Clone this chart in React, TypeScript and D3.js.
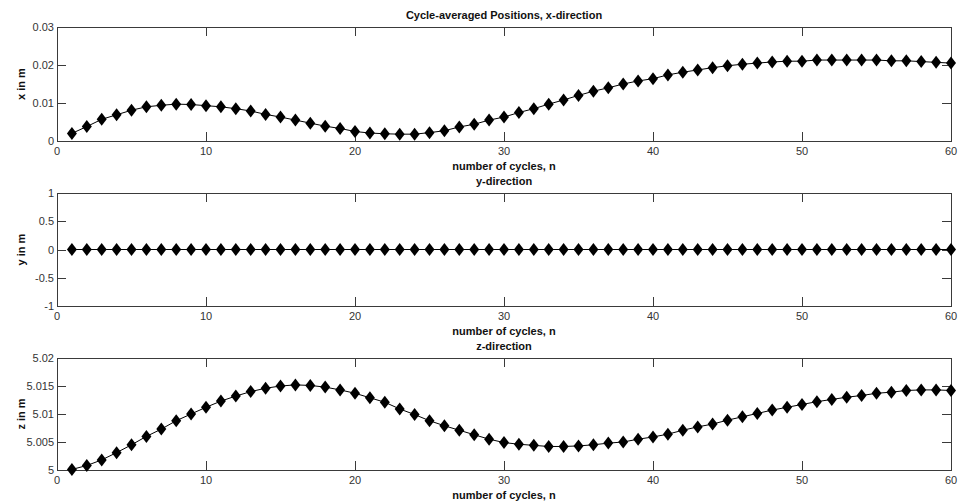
import React, { useRef, useEffect } from "react";
import * as d3 from "d3";

// Cycle index n = 1..60
const cycles: number[] = d3.range(1, 61);

const xPos: number[] = [
  0.0020, 0.0038, 0.0057, 0.0069, 0.0081, 0.0090, 0.0094, 0.0097, 0.0096, 0.0093,
  0.0090, 0.0085, 0.0079, 0.0070, 0.0063, 0.0055, 0.0047, 0.0039, 0.0033, 0.0025,
  0.0021, 0.0019, 0.0018, 0.0018, 0.0022, 0.0027, 0.0037, 0.0044, 0.0055, 0.0063,
  0.0075, 0.0085, 0.0097, 0.0108, 0.0120, 0.0131, 0.0140, 0.0150, 0.0158, 0.0164,
  0.0174, 0.0181, 0.0187, 0.0193, 0.0198, 0.0202, 0.0205, 0.0208, 0.0210, 0.0210,
  0.0213, 0.0213, 0.0213, 0.0213, 0.0213, 0.0211, 0.0211, 0.0209, 0.0207, 0.0205,
];

const yPos: number[] = [
  0, 0, 0, 0, 0, 0, 0, 0, 0, 0, 0, 0, 0, 0, 0, 0, 0, 0, 0, 0,
  0, 0, 0, 0, 0, 0, 0, 0, 0, 0, 0, 0, 0, 0, 0, 0, 0, 0, 0, 0,
  0, 0, 0, 0, 0, 0, 0, 0, 0, 0, 0, 0, 0, 0, 0, 0, 0, 0, 0, 0,
];

const zPos: number[] = [
  5.0001, 5.0008, 5.0018, 5.0031, 5.0045, 5.0060, 5.0073, 5.0088, 5.0100, 5.0112,
  5.0123, 5.0132, 5.0140, 5.0146, 5.0150, 5.0152, 5.0151, 5.0148, 5.0143, 5.0137,
  5.0129, 5.0121, 5.0109, 5.0099, 5.0088, 5.0079, 5.0071, 5.0063, 5.0055, 5.0049,
  5.0046, 5.0044, 5.0042, 5.0042, 5.0043, 5.0045, 5.0048, 5.0050, 5.0055, 5.0059,
  5.0064, 5.0071, 5.0077, 5.0082, 5.0089, 5.0095, 5.0101, 5.0107, 5.0112, 5.0117,
  5.0122, 5.0126, 5.0130, 5.0133, 5.0137, 5.0139, 5.0142, 5.0143, 5.0143, 5.0142,
];

const xTicks: number[] = [0, 10, 20, 30, 40, 50, 60];

const panels = [
  { title: "Cycle-averaged Positions, x-direction", yLabel: "x in m", values: xPos, domain: [0, 0.03], ticks: [0, 0.01, 0.02, 0.03], fmt: (d: number) => (d === 0 ? "0" : d.toFixed(2)) },
  { title: "y-direction", yLabel: "y in m", values: yPos, domain: [-1, 1], ticks: [-1, -0.5, 0, 0.5, 1], fmt: (d: number) => `${d}` },
  { title: "z-direction", yLabel: "z in m", values: zPos, domain: [5, 5.02], ticks: [5, 5.005, 5.01, 5.015, 5.02], fmt: (d: number) => (d === 5 ? "5" : `${+d.toFixed(3)}`) },
];

const FONT = "Arial, 'Liberation Sans', sans-serif";

const App: React.FC = () => {
  const svgRef = useRef<SVGSVGElement>(null);

  useEffect(() => {
    if (!svgRef.current) return;
    const svg = d3.select(svgRef.current);
    svg.selectAll("*").remove();

    const left = 57;
    const right = 951;
    const tops = [27, 193, 358];
    const bottoms = [141, 306, 470];
    const tickLen = 9;

    const xScale = d3.scaleLinear().domain([0, 60]).range([left, right]);

    panels.forEach((p, i) => {
      const top = tops[i];
      const bottom = bottoms[i];
      const yScale = d3.scaleLinear().domain(p.domain).range([bottom, top]);
      const g = svg.append("g");

      // Box
      g.append("rect")
        .attr("x", left + 0.5)
        .attr("y", top + 0.5)
        .attr("width", right - left)
        .attr("height", bottom - top)
        .attr("fill", "#fff")
        .attr("stroke", "#3a3a3a")
        .attr("stroke-width", 1);

      // X ticks (bottom + top, inward)
      xTicks.forEach((t) => {
        const x = Math.round(xScale(t)) + 0.5;
        g.append("line").attr("x1", x).attr("x2", x).attr("y1", bottom).attr("y2", bottom - tickLen).attr("stroke", "#3a3a3a");
        g.append("line").attr("x1", x).attr("x2", x).attr("y1", top).attr("y2", top + tickLen).attr("stroke", "#3a3a3a");
        g.append("text")
          .attr("x", xScale(t))
          .attr("y", bottom + 14)
          .attr("text-anchor", "middle")
          .attr("font-family", FONT)
          .attr("font-size", 11)
          .attr("fill", "#333")
          .text(t);
      });

      // Y ticks (left + right, inward)
      p.ticks.forEach((t) => {
        const y = Math.round(yScale(t)) + 0.5;
        g.append("line").attr("x1", left).attr("x2", left + tickLen).attr("y1", y).attr("y2", y).attr("stroke", "#3a3a3a");
        g.append("line").attr("x1", right).attr("x2", right - tickLen).attr("y1", y).attr("y2", y).attr("stroke", "#3a3a3a");
        g.append("text")
          .attr("x", left - 3)
          .attr("y", yScale(t) + 4)
          .attr("text-anchor", "end")
          .attr("font-family", FONT)
          .attr("font-size", 11)
          .attr("fill", "#333")
          .text(p.fmt(t));
      });

      // Title
      g.append("text")
        .attr("x", (left + right) / 2)
        .attr("y", top - 8)
        .attr("text-anchor", "middle")
        .attr("font-family", FONT)
        .attr("font-size", 11)
        .attr("font-weight", "bold")
        .attr("fill", "#111")
        .text(p.title);

      // X label
      g.append("text")
        .attr("x", (left + right) / 2)
        .attr("y", bottom + 29)
        .attr("text-anchor", "middle")
        .attr("font-family", FONT)
        .attr("font-size", 11)
        .attr("font-weight", "bold")
        .attr("fill", "#111")
        .text("number of cycles, n");

      // Y label
      g.append("text")
        .attr("transform", `translate(25,${(top + bottom) / 2}) rotate(-90)`)
        .attr("text-anchor", "middle")
        .attr("font-family", FONT)
        .attr("font-size", 11)
        .attr("font-weight", "bold")
        .attr("fill", "#111")
        .text(p.yLabel);

      const pts = cycles.map((n, k) => ({ n, v: p.values[k] }));

      const line = d3
        .line<{ n: number; v: number }>()
        .x((d) => xScale(d.n))
        .y((d) => yScale(d.v));

      g.append("path")
        .datum(pts)
        .attr("fill", "none")
        .attr("stroke", "#000")
        .attr("stroke-width", 1)
        .attr("d", line);

      // Diamond markers
      g.selectAll(".dot")
        .data(pts)
        .enter()
        .append("path")
        .attr("class", "dot")
        .attr("d", "M0,-6.5L5,0L0,6.5L-5,0Z")
        .attr("transform", (d) => `translate(${xScale(d.n)},${yScale(d.v)})`)
        .attr("fill", "#000");
    });
  }, []);

  return (
    <svg
      ref={svgRef}
      width={958}
      height={504}
      style={{ position: "absolute", left: 0, top: 0, background: "#fff" }}
    ></svg>
  );
};

export default App;
